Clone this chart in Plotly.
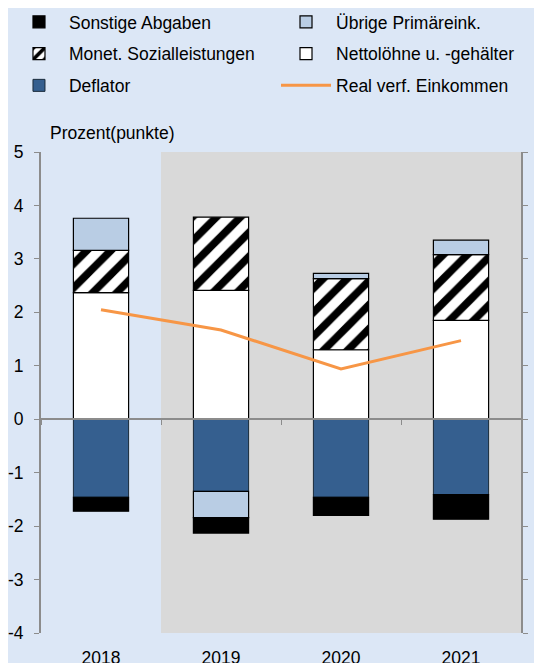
import plotly.graph_objects as go

years = ["2018", "2019", "2020", "2021"]
netto = [2.37, 2.41, 1.30, 1.85]
monet = [0.79, 1.37, 1.33, 1.23]
uebrige = [0.60, -0.49, 0.10, 0.27]
deflator = [-1.46, -1.35, -1.46, -1.41]
sonstige = [-0.26, -0.29, -0.34, -0.46]
real_eink = [2.05, 1.67, 0.94, 1.47]
y_ticks = [-4, -3, -2, -1, 0, 1, 2, 3, 4, 5]
y_ticktext = [str(v) for v in y_ticks]

BG = "#dce7f6"
GREY_AX = "#8c8c8c"
FONT = "Liberation Sans, Arial, sans-serif"
FS = 17.5

fig = go.Figure()
bw = 0.46
line_black = dict(color="black", width=1.2)

fig.add_trace(go.Bar(x=years, y=netto, name="Nettolöhne u. -gehälter", width=bw,
                     marker=dict(color="white", line=line_black),
                     legend="legend2", legendrank=2, legendgroup="n"))
fig.add_trace(go.Bar(x=years, y=deflator, name="Deflator", width=bw,
                     marker=dict(color="#355f8f", line=dict(color="#1a2a3a", width=1)),
                     legend="legend", legendrank=3, legendgroup="d"))
fig.add_trace(go.Bar(x=years, y=monet, name="Monet. Sozialleistungen", width=bw,
                     marker=dict(color="white", line=line_black,
                                 pattern=dict(shape="/", fgcolor="black", bgcolor="white",
                                              fgopacity=1, size=17, solidity=0.45)),
                     legend="legend", legendrank=2, legendgroup="m"))
fig.add_trace(go.Bar(x=years, y=uebrige, name="Übrige Primäreink.", width=bw,
                     marker=dict(color="#b9cde4", line=line_black),
                     legend="legend2", legendrank=1, legendgroup="u"))
fig.add_trace(go.Bar(x=years, y=sonstige, name="Sonstige Abgaben", width=bw,
                     marker=dict(color="black", line=line_black),
                     legend="legend", legendrank=1, legendgroup="s"))
fig.add_trace(go.Scatter(x=years, y=real_eink, name="Real verf. Einkommen", mode="lines",
                         line=dict(color="#f79646", width=3), xaxis="x2", yaxis="y",
                         legend="legend2", legendrank=3, legendgroup="r"))
fig.add_trace(go.Scatter(x=years, y=[None] * 4, xaxis="x", yaxis="y2", showlegend=False,
                         hoverinfo="skip", mode="lines"))

fig.add_shape(type="rect", xref="x", yref="y", x0=0.5, x1=3.5, y0=-4, y1=5,
              fillcolor="#d9d9d9", line=dict(width=0), layer="below")

fig.update_layout(
    width=534, height=655,
    margin=dict(l=33, r=21, t=144, b=30, autoexpand=False),
    paper_bgcolor=BG, plot_bgcolor=BG,
    barmode="relative", bargap=0.54,
    font=dict(family=FONT, size=FS, color="black"),
    xaxis=dict(type="category", categoryorder="array", categoryarray=years,
               anchor="free", position=4 / 9, showline=True, linecolor=GREY_AX, linewidth=2,
               ticks="outside", tickson="boundaries", ticklen=5, tickcolor=GREY_AX,
               showticklabels=False, showgrid=False, zeroline=False, range=[-0.5, 3.5],
               automargin=False),
    xaxis2=dict(type="category", categoryorder="array", categoryarray=years,
                overlaying="x", side="bottom", anchor="y", showline=False, ticks="",
                showgrid=False, zeroline=False, range=[-0.5, 3.5],
                tickfont=dict(size=FS), ticklabelstandoff=12, automargin=False),
    yaxis=dict(range=[-4, 5], tickvals=y_ticks, ticktext=y_ticktext, showline=True,
               linecolor=GREY_AX, linewidth=2,
               ticks="outside", ticklen=5, tickcolor=GREY_AX, showgrid=False, zeroline=False,
               ticklabelstandoff=7, tickfont=dict(size=FS), automargin=False),
    yaxis2=dict(range=[-4, 5], tickvals=y_ticks, ticktext=y_ticktext, overlaying="y",
                side="right", anchor="x",
                showline=True, linecolor=GREY_AX, linewidth=2, ticks="outside", ticklen=5,
                tickcolor=GREY_AX, showgrid=False, zeroline=False, ticklabelstandoff=4,
                tickfont=dict(size=FS), automargin=False),
    legend=dict(x=-0.0667, xanchor="left", y=1.3077, yanchor="top", bgcolor="rgba(0,0,0,0)",
                itemwidth=50, tracegroupgap=6, font=dict(size=FS)),
    legend2=dict(x=0.4896, xanchor="left", y=1.3077, yanchor="top", bgcolor="rgba(0,0,0,0)",
                 itemwidth=50, tracegroupgap=6, font=dict(size=FS)),
    showlegend=True,
    annotations=[dict(text="Prozent(punkte)", xref="paper", yref="paper", x=0.0146, y=1.0395,
                      xanchor="left", yanchor="middle", showarrow=False, font=dict(size=FS))],
)

fig.write_html("out.html")
